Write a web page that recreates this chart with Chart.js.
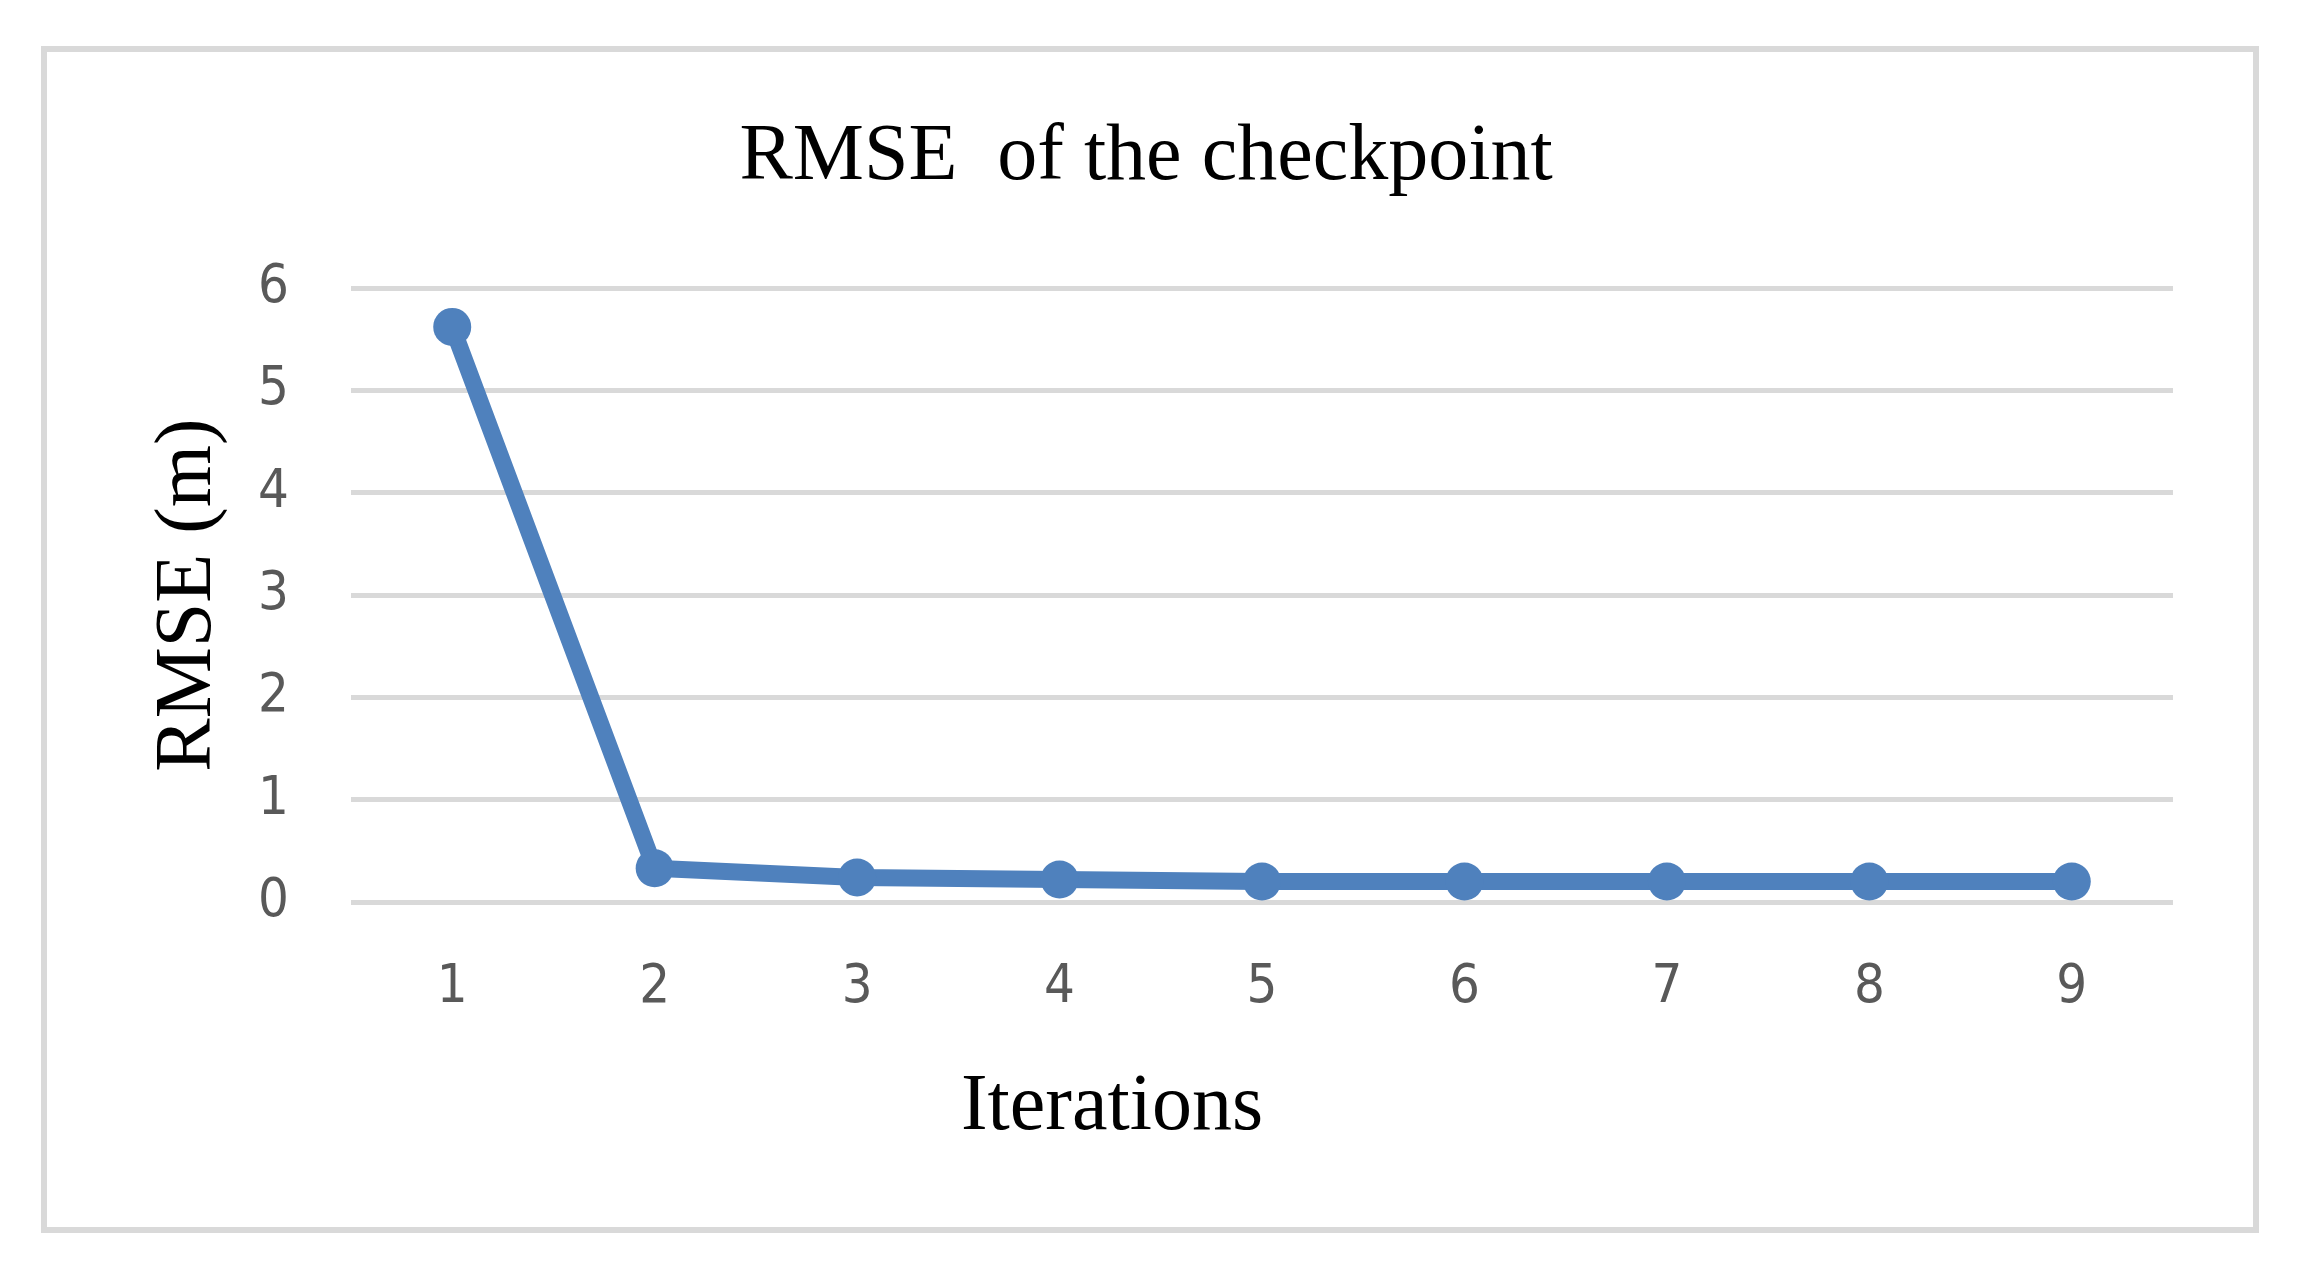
<!DOCTYPE html>
<html>
<head>
<meta charset="utf-8">
<title>RMSE of the checkpoint</title>
<script src="https://cdn.jsdelivr.net/npm/chart.js@4.4.1/dist/chart.umd.min.js"></script>
<style>
    body {
        margin: 0;
        background: #ffffff;
    }
    .chart-box {
        position: absolute;
        left: 41px;
        top: 46px;
        width: 2206px;
        height: 1175px;
        border: 6px solid #d9d9d9;
        background: #ffffff;
    }
</style>
</head>
<body>
<div class="chart-box">
    <canvas id="rmseChart" width="2206" height="1175"></canvas>
</div>
<script>
// Chart data
const iterations = ['1', '2', '3', '4', '5', '6', '7', '8', '9'];
const rmseValues = [5.62, 0.33, 0.24, 0.22, 0.2, 0.2, 0.2, 0.2, 0.2];
const yTicks = [0, 1, 2, 3, 4, 5, 6];

const chartTitle = 'RMSE  of the checkpoint';
const xAxisTitle = 'Iterations';
const yAxisTitle = 'RMSE (m)';

const lineColor = '#4f81bd';
const gridColor = '#d9d9d9';
const tickColor = '#595959';
const serifFont = "'Liberation Serif', 'Times New Roman', serif";
const tickFont = "'DejaVu Sans Condensed', 'Liberation Sans Narrow', 'Liberation Sans', sans-serif";

document.addEventListener('DOMContentLoaded', function() {
    createRmseChart();
});

// Title and x caption are drawn by hand: in the original they are centred
// on the frame, not on the plot area
const captionPlugin = {
    id: 'captions',
    afterDraw(chart) {
        const ctx = chart.ctx;
        ctx.save();
        ctx.font = '80px ' + serifFont;
        ctx.fillStyle = '#000000';
        ctx.textAlign = 'center';
        ctx.textBaseline = 'alphabetic';
        ctx.fillText(chartTitle, chart.width / 2 - 4, 127);
        ctx.fillText(xAxisTitle, chart.width / 2 - 38, 1077);
        ctx.restore();
    }
};

function createRmseChart() {
    const ctx = document.getElementById('rmseChart').getContext('2d');

    new Chart(ctx, {
        type: 'line',
        data: {
            labels: iterations,
            datasets: [{
                label: 'RMSE',
                data: rmseValues,
                borderColor: lineColor,
                backgroundColor: lineColor,
                borderWidth: 17,
                tension: 0,
                pointRadius: 19,
                pointBorderWidth: 0,
                pointBackgroundColor: lineColor,
                fill: false
            }]
        },
        options: {
            responsive: false,
            animation: false,
            devicePixelRatio: 1,
            layout: {
                padding: { left: 0, right: 80, top: 236, bottom: 0 }
            },
            plugins: {
                legend: { display: false },
                tooltip: { enabled: false },
                title: { display: false }
            },
            scales: {
                x: {
                    offset: true,
                    grid: { display: false, drawTicks: false },
                    border: { display: false },
                    ticks: {
                        color: tickColor,
                        font: { family: tickFont, size: 54 },
                        padding: 54,
                        maxRotation: 0
                    },
                    afterFit: function(scale) {
                        scale.height = 325;
                    }
                },
                y: {
                    min: 0,
                    max: 6,
                    afterBuildTicks: function(scale) {
                        scale.ticks = yTicks.map(v => ({ value: v }));
                    },
                    grid: {
                        color: gridColor,
                        lineWidth: 5,
                        drawTicks: false
                    },
                    border: { display: false },
                    ticks: {
                        color: tickColor,
                        font: { family: tickFont, size: 54 },
                        padding: 62
                    },
                    title: {
                        display: true,
                        text: yAxisTitle,
                        color: '#000000',
                        font: { family: serifFont, size: 80, lineHeight: 1 },
                        padding: { top: 102, bottom: 0 }
                    },
                    afterFit: function(scale) {
                        scale.width = 304;
                    }
                }
            }
        },
        plugins: [captionPlugin]
    });
}
</script>
</body>
</html>
